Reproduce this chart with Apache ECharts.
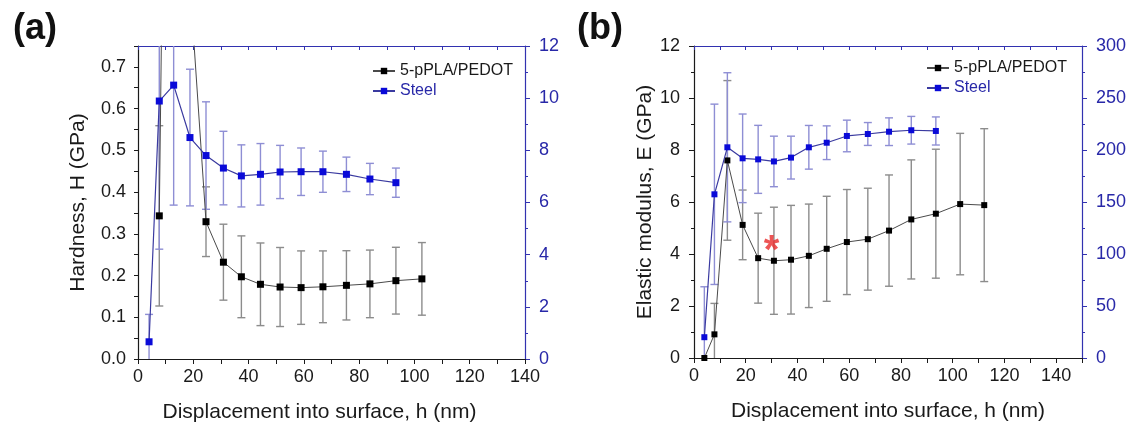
<!DOCTYPE html>
<html>
<head>
<meta charset="utf-8">
<script src="https://cdn.jsdelivr.net/npm/echarts@6/dist/echarts.min.js"></script>
<style>
html,body{margin:0;padding:0;background:#fff;}
#c{width:1133px;height:441px;}
</style>
</head>
<body>
<div id="c"></div>
<script>
// ---------- data ----------
// Panel (a): hardness
const aPedotX   = [7.7, 12.9, 18.8, 24.6, 30.9, 37.4, 44.3, 51.4, 59.0, 66.9, 75.4, 83.9, 93.3, 102.7];
const aPedotH   = [0.343, 3.2, 0.9, 0.329, 0.232, 0.197, 0.179, 0.1725, 0.171, 0.173, 0.1765, 0.180, 0.1877, 0.192];
const aPedotErr = [0.216, 0.8, 0.12, 0.0835, 0.091, 0.098, 0.099, 0.0947, 0.088, 0.086, 0.083, 0.081, 0.080, 0.087];
const aSteelX   = [4.0, 7.7, 12.9, 18.8, 24.6, 30.9, 37.4, 44.3, 51.4, 59.0, 66.9, 75.4, 83.9, 93.3];
const aSteelH   = [0.66, 9.89, 10.5, 8.49, 7.80, 7.32, 7.02, 7.08, 7.17, 7.18, 7.18, 7.08, 6.90, 6.76];
const aSteelErr = [1.05, 5.68, 4.6, 2.62, 2.06, 1.41, 1.19, 1.18, 1.02, 0.91, 0.79, 0.66, 0.60, 0.56];
// Panel (b): elastic modulus
const bPedotX   = [4.0, 7.9, 12.9, 18.8, 24.8, 30.9, 37.5, 44.4, 51.3, 59.1, 67.2, 75.4, 84.0, 93.5, 102.9, 112.2];
const bPedotE   = [0, 0.91, 7.6, 5.12, 3.84, 3.74, 3.78, 3.93, 4.20, 4.46, 4.57, 4.90, 5.33, 5.55, 5.92, 5.88];
const bPedotErr = [0, 1.19, 3.07, 1.34, 1.73, 2.06, 2.09, 1.99, 2.02, 2.02, 1.96, 2.14, 2.29, 2.48, 2.72, 2.94];
const bSteelX   = [4.0, 7.9, 12.9, 18.8, 24.8, 30.9, 37.5, 44.4, 51.3, 59.1, 67.2, 75.4, 84.0, 93.5];
const bSteelE   = [20, 157.4, 202.6, 192, 191, 189, 192.7, 202.6, 207, 213.5, 215.4, 217.6, 219, 218.3];
const bSteelErr = [48.5, 86.7, 71.7, 42.6, 32.7, 24.3, 20.6, 21, 16.2, 15.2, 11, 13.3, 13.3, 13.5];
// annotation
const starX = [30];
const starY = [4.47];
const seriesNames = ['5-pPLA/PEDOT', 'Steel'];
const panelLabels = ['(a)', '(b)'];
const xTitle = 'Displacement into surface, h (nm)';
const yTitleA = 'Hardness, H (GPa)';
const yTitleB = 'Elastic modulus, E (GPa)';

// ---------- styles ----------
const FONT = 'Liberation Sans, Arial, sans-serif';
const BLACK = '#1a1a1a';
const BLUE_AXIS = '#3232b0';
const BLUE_TXT = '#2828a8';
const BLUE_PT = '#0a0ad8';
const BLUE_LINE = '#3a3aa0';
const BLUE_ERR = '#8e8ed4';
const GREY_ERR = '#8c8c8c';
const GREY_LINE = '#4a4a4a';

const pairs = (xs, ys) => xs.map((x, i) => [x, ys[i]]);
const errData = (xs, ys, es) => xs.map((x, i) => [x, ys[i] - es[i], ys[i] + es[i]]);

function errRender(yMin, yMax, color) {
  return function (params, api) {
    const x = api.value(0), lo = api.value(1), hi = api.value(2);
    const cl = Math.max(lo, yMin), ch = Math.min(hi, yMax);
    if (cl >= ch) return null;
    const p1 = api.coord([x, cl]), p2 = api.coord([x, ch]);
    const st = { stroke: color, lineWidth: 1.4 };
    const half = 4;
    const ch2 = [{ type: 'line', shape: { x1: p1[0], y1: p1[1], x2: p2[0], y2: p2[1] }, style: st }];
    if (lo >= yMin) ch2.push({ type: 'line', shape: { x1: p1[0] - half, y1: p1[1], x2: p1[0] + half, y2: p1[1] }, style: st });
    if (hi <= yMax) ch2.push({ type: 'line', shape: { x1: p2[0] - half, y1: p2[1], x2: p2[0] + half, y2: p2[1] }, style: st });
    return { type: 'group', children: ch2 };
  };
}

const tickLabel = { fontFamily: FONT, fontSize: 18, color: BLACK };
const nameStyle = { fontFamily: FONT, fontSize: 21, color: BLACK };

function bottomAxis(grid, max, shift) {
  return {
    type: 'value', gridIndex: grid, position: 'bottom', min: 0, max: max, interval: 10,
    axisLine: { show: true, onZero: false, lineStyle: { color: BLACK, width: 1.2 } },
    axisTick: { show: true, length: 5, lineStyle: { color: BLACK } },
    axisLabel: Object.assign({ margin: 9, formatter: v => (Math.round(v) % 20 === 0 ? String(Math.round(v)) : '') }, tickLabel),
    splitLine: { show: false },
    name: xTitle, nameLocation: 'middle', nameGap: 43,
    nameTextStyle: Object.assign({ padding: [0, shift, 0, 0] }, nameStyle)
  };
}
function topAxis(grid, max) {
  return {
    type: 'value', gridIndex: grid, position: 'top', min: 0, max: max, interval: 10,
    axisLine: { show: true, onZero: false, lineStyle: { color: BLUE_AXIS, width: 1.2 } },
    axisTick: { show: true, inside: true, length: 4, lineStyle: { color: BLUE_AXIS } },
    axisLabel: { show: false }, splitLine: { show: false }
  };
}

const option = {
  animation: false,
  backgroundColor: '#ffffff',
  title: [
    { text: panelLabels[0], left: 8, top: 6, textStyle: { fontFamily: FONT, fontSize: 36, fontWeight: 'bold', color: '#111' } },
    { text: panelLabels[1], left: 572, top: 6, textStyle: { fontFamily: FONT, fontSize: 36, fontWeight: 'bold', color: '#111' } }
  ],
  legend: [
    { left: 372, top: 63, orient: 'vertical', padding: 0, itemGap: 4, itemWidth: 22, itemHeight: 8,
      textStyle: { fontFamily: FONT, fontSize: 16 },
      data: [{ name: seriesNames[0], textStyle: { color: BLACK } }, { name: seriesNames[1], textStyle: { color: BLUE_TXT } }] },
    { left: 926, top: 60, orient: 'vertical', padding: 0, itemGap: 4, itemWidth: 22, itemHeight: 8,
      textStyle: { fontFamily: FONT, fontSize: 16 },
      data: [{ name: seriesNames[0], textStyle: { color: BLACK } }, { name: seriesNames[1], textStyle: { color: BLUE_TXT } }] }
  ],
  grid: [
    { left: 138, top: 46, width: 387, height: 313 },
    { left: 694, top: 46, width: 388, height: 312 }
  ],
  xAxis: [bottomAxis(0, 140, 24), topAxis(0, 140), bottomAxis(1, 150, 0), topAxis(1, 150)],
  yAxis: [
    { type: 'value', gridIndex: 0, position: 'left', min: 0, max: 0.75, interval: 0.05,
      axisLine: { show: true, onZero: false, lineStyle: { color: BLACK, width: 1.2 } },
      axisTick: { show: true, length: 4, lineStyle: { color: BLACK } },
      axisLabel: Object.assign({ margin: 12, formatter: v => (Math.round(v * 100) % 10 === 0 ? v.toFixed(1) : '') }, tickLabel),
      splitLine: { show: false },
      name: yTitleA, nameLocation: 'middle', nameRotate: 90, nameGap: 49, nameTextStyle: nameStyle },
    { type: 'value', gridIndex: 0, position: 'right', min: 0, max: 12, interval: 2,
      axisLine: { show: true, onZero: false, lineStyle: { color: BLUE_AXIS, width: 1.2 } },
      axisTick: { show: true, length: 5, lineStyle: { color: BLUE_AXIS } },
      minorTick: { show: true, splitNumber: 2, length: 3, lineStyle: { color: BLUE_AXIS } },
      axisLabel: Object.assign({}, tickLabel, { margin: 14, color: BLUE_TXT }),
      splitLine: { show: false } },
    { type: 'value', gridIndex: 1, position: 'left', min: 0, max: 12, interval: 2,
      axisLine: { show: true, onZero: false, lineStyle: { color: BLACK, width: 1.2 } },
      axisTick: { show: true, length: 5, lineStyle: { color: BLACK } },
      minorTick: { show: true, splitNumber: 2, length: 3, lineStyle: { color: BLACK } },
      axisLabel: Object.assign({ margin: 14 }, tickLabel),
      splitLine: { show: false },
      name: yTitleB, nameLocation: 'middle', nameRotate: 90, nameGap: 37, nameTextStyle: nameStyle },
    { type: 'value', gridIndex: 1, position: 'right', min: 0, max: 300, interval: 50,
      axisLine: { show: true, onZero: false, lineStyle: { color: BLUE_AXIS, width: 1.2 } },
      axisTick: { show: true, length: 5, lineStyle: { color: BLUE_AXIS } },
      minorTick: { show: true, splitNumber: 2, length: 3, lineStyle: { color: BLUE_AXIS } },
      axisLabel: Object.assign({}, tickLabel, { margin: 14, color: BLUE_TXT }),
      splitLine: { show: false } }
  ],
  series: [
    // panel (a) error bars
    { type: 'custom', xAxisIndex: 0, yAxisIndex: 0, z: 1, silent: true,
      renderItem: errRender(0, 0.75, GREY_ERR), encode: { x: 0, y: [1, 2] },
      data: errData(aPedotX, aPedotH, aPedotErr) },
    { type: 'custom', xAxisIndex: 0, yAxisIndex: 1, z: 1, silent: true,
      renderItem: errRender(0, 12, BLUE_ERR), encode: { x: 0, y: [1, 2] },
      data: errData(aSteelX, aSteelH, aSteelErr) },
    // panel (a) lines
    { name: seriesNames[0], type: 'line', xAxisIndex: 0, yAxisIndex: 0, z: 3, clip: true,
      symbol: 'rect', symbolSize: 7, itemStyle: { color: '#000' },
      lineStyle: { color: GREY_LINE, width: 1 }, data: pairs(aPedotX, aPedotH) },
    { name: seriesNames[1], type: 'line', xAxisIndex: 0, yAxisIndex: 1, z: 4, clip: true,
      symbol: 'rect', symbolSize: 7, itemStyle: { color: BLUE_PT },
      lineStyle: { color: BLUE_LINE, width: 1.2 }, data: pairs(aSteelX, aSteelH) },
    // panel (b) error bars
    { type: 'custom', xAxisIndex: 2, yAxisIndex: 2, z: 1, silent: true,
      renderItem: errRender(0, 12, GREY_ERR), encode: { x: 0, y: [1, 2] },
      data: errData(bPedotX, bPedotE, bPedotErr) },
    { type: 'custom', xAxisIndex: 2, yAxisIndex: 3, z: 1, silent: true,
      renderItem: errRender(0, 300, BLUE_ERR), encode: { x: 0, y: [1, 2] },
      data: errData(bSteelX, bSteelE, bSteelErr) },
    // panel (b) lines
    { name: seriesNames[0], type: 'line', xAxisIndex: 2, yAxisIndex: 2, z: 3, clip: true,
      symbol: 'rect', symbolSize: 6, itemStyle: { color: '#000' },
      lineStyle: { color: GREY_LINE, width: 1 }, data: pairs(bPedotX, bPedotE) },
    { name: seriesNames[1], type: 'line', xAxisIndex: 2, yAxisIndex: 3, z: 4, clip: true,
      symbol: 'rect', symbolSize: 6, itemStyle: { color: BLUE_PT },
      lineStyle: { color: BLUE_LINE, width: 1.2 }, data: pairs(bSteelX, bSteelE) },
    // red asterisk annotation
    { type: 'scatter', xAxisIndex: 2, yAxisIndex: 2, z: 5, silent: true,
      symbol: 'circle', symbolSize: 2, itemStyle: { color: 'rgba(255,255,255,0)' },
      label: { show: true, position: 'inside', formatter: '*', fontFamily: FONT, fontSize: 40, fontWeight: 'bold',
               color: '#e82a2a', offset: [0, 10] },
      data: pairs(starX, starY) }
  ]
};

const chart = echarts.init(document.getElementById('c'), null, { renderer: 'canvas' });
chart.setOption(option);
</script>
</body>
</html>
